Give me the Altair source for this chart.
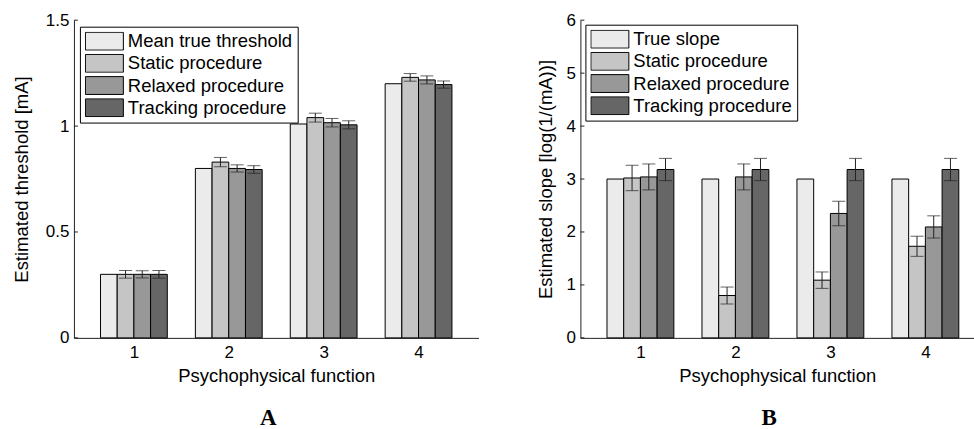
import altair as alt
import pandas as pd

groups = [1, 2, 3, 4]

a_series = ["Mean true threshold", "Static procedure", "Relaxed procedure", "Tracking procedure"]
a_true = [0.30, 0.80, 1.01, 1.20]
a_static = [0.30, 0.83, 1.04, 1.23]
a_static_err = [0.018, 0.022, 0.021, 0.018]
a_relaxed = [0.30, 0.80, 1.016, 1.218]
a_relaxed_err = [0.017, 0.017, 0.020, 0.019]
a_tracking = [0.30, 0.795, 1.006, 1.196]
a_tracking_err = [0.018, 0.018, 0.019, 0.017]
a_yticks = [0, 0.5, 1, 1.5]

b_series = ["True slope", "Static procedure", "Relaxed procedure", "Tracking procedure"]
b_true = [3.0, 3.0, 3.0, 3.0]
b_static = [3.02, 0.80, 1.09, 1.73]
b_static_err = [0.24, 0.16, 0.155, 0.19]
b_relaxed = [3.04, 3.04, 2.35, 2.095]
b_relaxed_err = [0.245, 0.245, 0.23, 0.21]
b_tracking = [3.18, 3.18, 3.18, 3.18]
b_tracking_err = [0.21, 0.21, 0.21, 0.21]
b_yticks = [0, 1, 2, 3, 4, 5, 6]

colors = ["#ebebeb", "#c5c5c5", "#989898", "#666666"]
INK = "#222222"
FONT = "Liberation Sans"


def table(series, vals, errs):
    rows = []
    for k, (name, v, e) in enumerate(zip(series, vals, errs)):
        for i, g in enumerate(groups):
            rows.append({"group": g, "series": name, "k": k, "value": v[i],
                         "err": (None if e is None else e[i])})
    return pd.DataFrame(rows)


def panel(series, vals, errs, yticks, ydom, xdom, width, ytitle, letter, lx, ly, ytp):
    df = table(series, vals, errs)
    xscale = alt.Scale(domain=xdom, nice=False, zero=False)
    yscale = alt.Scale(domain=ydom, nice=False, zero=True)
    xaxis = alt.Axis(values=groups, format="d", ticks=False, grid=False,
                     title="Psychophysical function", labelPadding=7,
                     titlePadding=6)
    yaxis = alt.Axis(values=yticks, format="~g", ticks=False, grid=False,
                     title=ytitle, labelPadding=5, titlePadding=ytp)

    base = alt.Chart(df).transform_calculate(
        xc="datum.group + (datum.k - 1.5) * 0.176",
        x0="datum.group + (datum.k - 1.5) * 0.176 - 0.088",
        x1="datum.group + (datum.k - 1.5) * 0.176 + 0.088",
        lo="datum.value - datum.err",
        hi="datum.value + datum.err",
    )

    bars = base.mark_bar(stroke="black", strokeWidth=1).encode(
        x=alt.X("x0:Q", scale=xscale, axis=xaxis),
        x2="x1:Q",
        y=alt.Y("value:Q", scale=yscale, axis=yaxis),
        y2=alt.datum(0),
        color=alt.Color(
            "series:N",
            scale=alt.Scale(domain=series, range=colors),
            sort=series,
            legend=alt.Legend(
                title=None, orient="none", legendX=lx, legendY=ly,
                fillColor="white", strokeColor="black", padding=5,
                symbolType="M-1,-0.47H1V0.47H-1Z", symbolSize=1444,
                symbolStrokeColor="black", symbolStrokeWidth=1,
                symbolOpacity=1, clipHeight=19, rowPadding=3.2,
                labelFont=FONT, labelFontSize=18.5, labelColor="black",
                labelOffset=4, labelLimit=400,
            ),
        ),
    )

    eb = base.transform_filter("datum.err != null")
    rule = eb.mark_rule(color=INK, strokeWidth=1).encode(
        x=alt.X("xc:Q", scale=xscale, axis=xaxis),
        y=alt.Y("lo:Q", scale=yscale, axis=yaxis),
        y2="hi:Q",
    )
    cap_lo = eb.mark_tick(orient="horizontal", size=13, thickness=1, color=INK).encode(
        x=alt.X("xc:Q", scale=xscale, axis=xaxis),
        y=alt.Y("lo:Q", scale=yscale, axis=yaxis),
    )
    cap_hi = eb.mark_tick(orient="horizontal", size=13, thickness=1, color=INK).encode(
        x=alt.X("xc:Q", scale=xscale, axis=xaxis),
        y=alt.Y("hi:Q", scale=yscale, axis=yaxis),
    )
    ticks = alt.Chart(pd.DataFrame({"t": yticks})).mark_rule(
        color=INK, strokeWidth=1
    ).encode(
        y=alt.Y("t:Q", scale=yscale, axis=yaxis),
        x=alt.value(0),
        x2=alt.value(4),
    )

    return alt.layer(bars, rule, cap_lo, cap_hi, ticks).properties(
        width=width, height=318,
        title=alt.TitleParams(
            text=letter, orient="bottom", font="Liberation Serif",
            fontSize=23, fontWeight="bold", color="black", offset=22, dx=-8,
        ),
    )


pa = panel(a_series, [a_true, a_static, a_relaxed, a_tracking],
           [None, a_static_err, a_relaxed_err, a_tracking_err],
           a_yticks, [0, 1.5], [0.368, 4.632], 405,
           "Estimated threshold [mA]", "A", 6, 6.5, 14)
pb = panel(b_series, [b_true, b_static, b_relaxed, b_tracking],
           [None, b_static_err, b_relaxed_err, b_tracking_err],
           b_yticks, [0, 6], [0.368, 4.512], 394,
           "Estimated slope [log(1/(mA))]", "B", 5, 4.5, 10)

chart = alt.hconcat(pa, pb, spacing=58).resolve_scale(
    color="independent"
).resolve_legend(color="independent").properties(
    padding={"left": 12, "top": 11, "right": 0, "bottom": -3}
).configure_view(stroke=None).configure_axis(
    labelFont=FONT, titleFont=FONT, labelFontSize=17, titleFontSize=18.5,
    titleFontWeight="normal", labelColor="black", titleColor="black",
    domainColor=INK, domainWidth=1,
)

chart.save("out.html", embed_options={"renderer": "svg", "actions": False})
